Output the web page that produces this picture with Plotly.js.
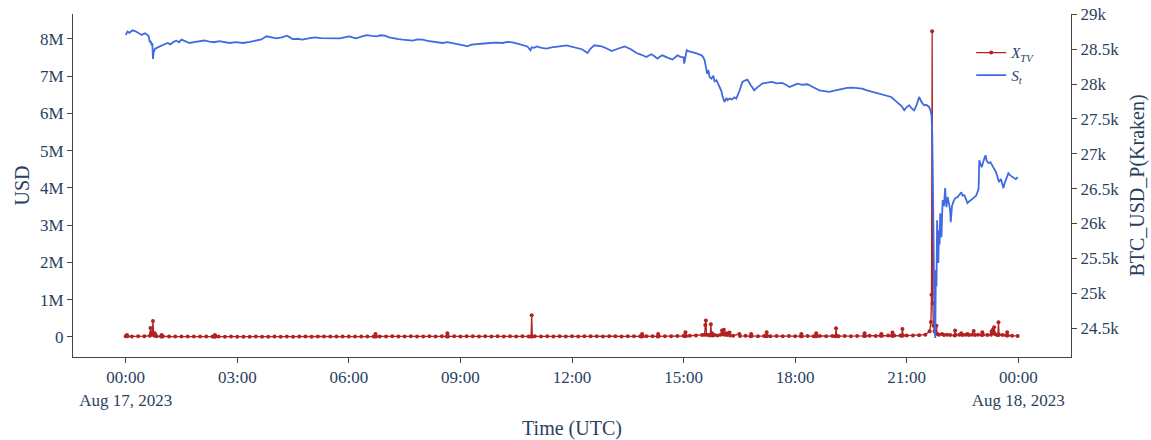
<!DOCTYPE html>
<html>
<head>
<meta charset="utf-8">
<script src="https://cdn.plot.ly/plotly-3.0.1.min.js"></script>
<style>html,body{margin:0;padding:0;background:#fff;}#chart{width:1151px;height:440px;}</style>
</head>
<body>
<div id="chart"></div>
<script>
// Minutes after 2023-08-17 00:00 UTC and Kraken BTC/USD price
const priceMinute = [0,3,6,11,15,19,22,26,29,31,35,37,39,40,42,43,44,45,47,50,55,60,65,68,72,78,82,86,90,96,103,110,119,127,135,143,151,160,168,178,189,200,211,219,227,235,243,252,260,265,269,277,285,295,305,315,324,335,345,353,361,367,372,380,389,397,405,411,418,425,431,440,447,455,463,471,479,487,495,503,511,519,527,535,543,547,551,558,566,576,587,597,608,616,624,632,640,648,653,655,659,663,671,679,687,695,703,711,719,727,736,745,750,756,762,768,776,784,795,805,815,824,832,840,844,848,853,858,862,866,874,882,886,890,895,900,901,903,905,909,914,921,929,932,934,936,938,940,942,945,948,950,953,956,958,961,963,966,969,971,974,978,982,985,990,995,999,1003,1008,1014,1020,1027,1035,1043,1050,1059,1065,1071,1078,1084,1092,1100,1110,1119,1127,1135,1145,1156,1164,1172,1180,1188,1196,1205,1213,1221,1228,1235,1242,1248,1252,1256,1260,1264,1268,1272,1276,1280,1284,1288,1292,1296,1298,1300,1301,1302,1303,1304,1305,1306,1307,1308,1309,1310,1311,1312,1313,1314,1315,1316,1317,1318,1320,1322,1323,1324,1326,1328,1330,1331,1333,1335,1338,1342,1345,1348,1350,1353,1356,1358,1361,1364,1367,1369,1372,1374,1376,1377,1379,1381,1384,1387,1389,1392,1395,1398,1401,1404,1406,1409,1412,1416,1418,1420,1422,1424,1427,1431,1434,1436,1439];
const priceUsd = [28703,28752,28735,28771,28760,28742,28730,28703,28722,28728,28703,28690,28599,28620,28556,28590,28360,28450,28503,28520,28541,28560,28575,28589,28570,28610,28623,28600,28637,28620,28589,28600,28609,28625,28609,28600,28615,28605,28589,28600,28589,28605,28623,28640,28685,28665,28656,28670,28695,28670,28646,28650,28637,28655,28670,28660,28656,28650,28656,28670,28685,28665,28656,28680,28703,28690,28685,28700,28695,28670,28656,28645,28637,28630,28623,28640,28637,28620,28609,28600,28589,28600,28589,28575,28560,28550,28541,28565,28574,28580,28589,28595,28589,28605,28599,28580,28560,28540,28484,28527,28520,28541,28520,28508,28525,28531,28545,28556,28540,28523,28500,28445,28510,28556,28545,28541,28510,28474,28510,28541,28500,28445,28420,28388,28410,28427,28400,28365,28395,28412,28380,28351,28380,28412,28390,28384,28294,28420,28484,28470,28460,28440,28412,28380,28341,28250,28150,28200,28100,28079,28120,28040,28054,28000,27958,27900,27820,27743,27800,27770,27792,27780,27810,27792,27900,28030,28050,28064,27990,27911,27960,28007,28020,28030,28010,28016,27990,27958,27985,28007,27990,27997,27950,27911,27900,27887,27910,27935,27945,27950,27940,27935,27910,27887,27870,27854,27835,27815,27760,27720,27680,27624,27670,27696,27650,27624,27700,27815,27740,27696,27700,27672,27630,27553,27338,26700,26048,24859,24500,24357,25332,25100,26048,25700,25432,25900,25700,26148,25950,25804,26100,26335,26250,26507,26350,26234,26380,26292,26200,26019,26250,26306,26360,26378,26420,26449,26400,26406,26340,26292,26320,26335,26360,26378,26400,26449,26500,26908,26850,26808,26900,26979,26900,26865,26880,26836,26790,26736,26680,26593,26640,26507,26580,26621,26680,26722,26690,26664,26650,26636,26664];

// Minutes after 2023-08-17 00:00 UTC and X_TV in thousand USD
const tvMinute = [0,2,3,10,20,30,39,40,41,42,43,44,45,46,47,48,50,57,58,59,60,70,80,90,100,110,120,130,140,143,144,145,150,160,170,180,190,200,210,220,230,240,250,260,270,280,290,300,310,320,330,340,350,360,370,380,390,400,402,403,404,410,420,430,440,450,460,470,480,490,500,510,518,519,520,530,540,550,560,570,580,590,600,610,620,630,640,650,654,655,656,660,670,680,690,700,710,720,730,740,750,760,770,780,790,800,810,820,830,832,833,834,840,850,858,859,860,870,880,890,900,902,903,904,910,920,930,934,935,936,937,940,943,944,945,946,947,950,955,960,962,963,965,966,969,970,974,975,980,990,991,1000,1008,1009,1010,1020,1030,1033,1034,1035,1040,1050,1060,1070,1080,1089,1090,1091,1100,1110,1113,1114,1115,1120,1130,1140,1145,1146,1147,1150,1160,1170,1180,1191,1192,1193,1200,1210,1218,1219,1220,1230,1236,1237,1238,1240,1250,1252,1253,1254,1260,1270,1280,1290,1297,1299,1300,1301,1302,1303,1305,1307,1308,1309,1312,1317,1320,1325,1330,1337,1338,1339,1345,1348,1350,1355,1358,1360,1365,1368,1370,1375,1381,1382,1383,1390,1396,1397,1398,1399,1400,1401,1402,1405,1407,1408,1409,1415,1421,1422,1423,1430,1439];
const tvValueK = [20,50,15,10,15,20,30,240,100,60,80,430,90,40,100,30,20,10,50,10,15,10,10,8,12,8,10,8,10,5,50,8,8,6,8,5,6,5,8,6,5,8,6,8,5,10,8,6,8,10,8,10,12,8,10,12,10,12,10,80,10,12,10,15,12,10,15,12,10,15,12,15,10,100,12,15,12,18,15,12,15,12,15,10,15,12,15,12,10,580,12,15,12,15,12,15,12,15,12,15,18,15,12,15,18,12,15,18,15,12,80,15,18,15,12,80,15,18,20,25,30,20,125,25,30,40,50,60,320,440,60,50,40,340,60,100,40,50,40,60,170,80,190,60,100,50,115,40,30,80,25,30,20,80,25,20,25,20,125,25,20,25,20,25,20,20,80,20,25,20,20,100,20,25,20,25,20,230,25,20,25,20,25,25,100,25,30,25,30,80,30,35,30,115,30,35,40,30,215,40,35,40,45,60,150,400,1130,8210,900,300,150,100,300,80,60,80,50,60,50,40,170,50,60,100,50,60,80,50,60,160,50,60,50,125,60,50,60,150,120,190,150,260,80,60,50,395,60,50,40,125,40,30,25];

const yTickVals = [0,1e6,2e6,3e6,4e6,5e6,6e6,7e6,8e6];

function toStamp(m) {
  const day = 17 + Math.floor(m / 1440);
  const r = m % 1440;
  const hh = String(Math.floor(r / 60)).padStart(2, '0');
  const mm = String(r % 60).padStart(2, '0');
  return '2023-08-' + day + ' ' + hh + ':' + mm;
}

const font = 'Liberation Serif, Times New Roman, serif';

const traceTV = {
  x: tvMinute.map(toStamp),
  y: tvValueK.map(v => v * 1000),
  type: 'scatter',
  mode: 'lines+markers',
  name: '<i>X</i><sub><i>TV</i></sub>',
  line: {color: '#b22222', width: 1.3},
  marker: {color: '#b22222', size: 4},
  yaxis: 'y'
};
const traceS = {
  x: priceMinute.map(toStamp),
  y: priceUsd,
  type: 'scatter',
  mode: 'lines',
  name: '<i>S</i><sub><i>t</i></sub>',
  line: {color: '#4169e1', width: 1.8},
  yaxis: 'y2'
};

const axisCommon = {
  showline: true, linecolor: '#444', linewidth: 1,
  ticks: 'outside', tickcolor: '#444', ticklen: 5,
  showgrid: false, zeroline: false,
  tickfont: {family: font, size: 17, color: '#2a3f5f'}
};

const layout = {
  width: 1151, height: 440,
  margin: {l: 73, r: 80, t: 14, b: 83},
  paper_bgcolor: '#fff', plot_bgcolor: '#fff',
  font: {family: font, size: 17, color: '#2a3f5f'},
  showlegend: true,
  legend: {x: 0.9, y: 0.935, xanchor: 'left', yanchor: 'top', bgcolor: 'rgba(0,0,0,0)', font: {family: font, size: 15, color: '#2a3f5f'}, tracegroupgap: 0},
  xaxis: Object.assign({}, axisCommon, {
    type: 'date',
    range: ['2023-08-16 22:35', '2023-08-18 01:25'],
    dtick: 3 * 3600 * 1000,
    tick0: '2023-08-17 00:00',
    title: {text: 'Time (UTC)', standoff: 14, font: {family: font, size: 20, color: '#2a3f5f'}}
  }),
  yaxis: Object.assign({}, axisCommon, {
    range: [-0.54e6, 8.67e6],
    tickvals: yTickVals,
    title: {text: 'USD', standoff: 4, font: {family: font, size: 20, color: '#2a3f5f'}}
  }),
  yaxis2: Object.assign({}, axisCommon, {
    overlaying: 'y', side: 'right',
    range: [24085, 29005],
    dtick: 500,
    title: {text: 'BTC_USD_P(Kraken)', standoff: 11, font: {family: font, size: 20, color: '#2a3f5f'}}
  })
};

Plotly.newPlot('chart', [traceTV, traceS], layout, {displayModeBar: false, staticPlot: true});
</script>
</body>
</html>
